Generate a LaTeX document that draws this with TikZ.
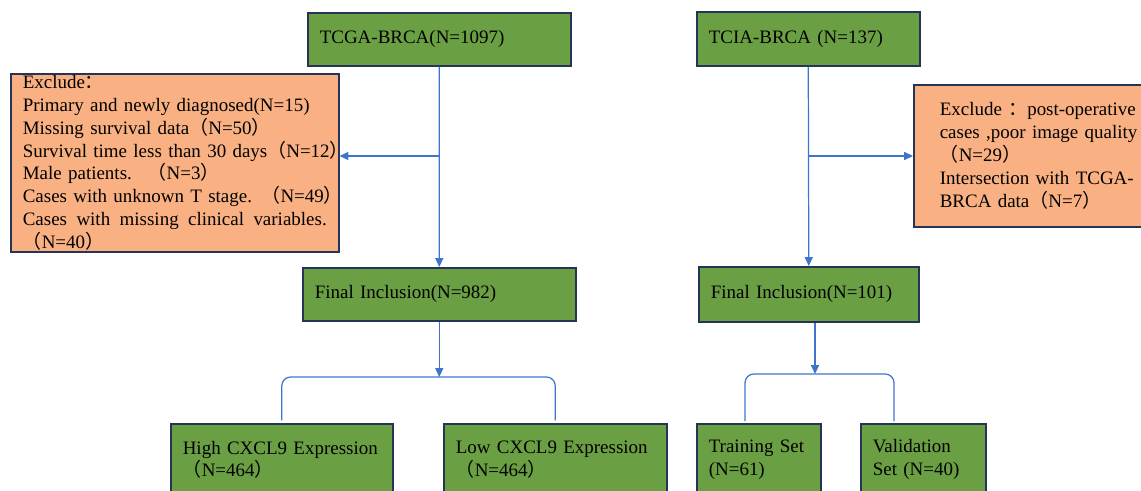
\documentclass[tikz,border=0pt]{standalone}
\usepackage{fontspec}
\setmainfont{Liberation Serif}
\newfontfamily\cjk{Noto Sans CJK SC}
\usepackage{tikz}
\usetikzlibrary{arrows.meta, positioning, calc}
\usepackage{xcolor}
\definecolor{boxgreen}{RGB}{106,160,67}
\definecolor{boxpeach}{RGB}{249,177,131}
\definecolor{boxline}{RGB}{38,52,88}
\definecolor{linkblue}{RGB}{62,116,204}
\newcommand{\flp}{{\cjk （}}
\newcommand{\frp}{{\cjk ）}}
\newcommand{\fcol}{{\cjk ：}}
\newcommand{\boxfont}{\fontsize{10.8}{13}\selectfont}
\newcommand{\spread}[1]{\makebox[\hsize][s]{#1}}
\tikzset{
  greenbox/.style={draw=boxline, fill=boxgreen, line width=0.9pt, anchor=north west,
    inner xsep=0.24cm, inner ysep=0pt, align=left, font=\boxfont},
  peachbox/.style={greenbox, fill=boxpeach},
  link/.style={draw=linkblue, line width=0.7pt},
  arr/.style={link, -{Triangle[length=5pt,width=4.5pt]}}
}

\begin{document}
\begin{tikzpicture}[x=0.02cm, y=-0.02cm]
  \useasboundingbox (0,0) rectangle (1141,490);
  \clip (0,0) rectangle (1141,490);
  % sources
  \node[greenbox, text width=4.78cm, minimum height=1.06cm] (tcga) at (307,12) {TCGA-BRCA(N=1097)};
  \node[greenbox, text width=3.98cm, minimum height=1.08cm] (tcia) at (696,11) {TCIA-BRCA (N=137)};
  % exclusions
  \node[peachbox, text width=6.08cm, minimum height=3.56cm] (exclL) at (10,73) {Exclude\fcol\\
    \mbox{Primary and newly diagnosed(N=15)}\\
    \mbox{Missing survival data\flp N=50\frp}\\
    \mbox{Survival time less than 30 days\flp N=12\frp}\\
    \mbox{Male patients. \ \flp N=3\frp}\\
    \mbox{Cases with unknown T stage. \flp N=49\frp}\\
    Cases \hfill with \hfill missing \hfill clinical \hfill variables.\\
    \flp N=40\frp};
  \node[peachbox, inner xsep=0.52cm, text width=3.86cm, minimum height=2.84cm] (exclR) at (913,84) {\spread{Exclude \fcol post-operative}\\
    \spread{cases ,poor image quality}\\
    \flp N=29\frp\\
    \spread{Intersection with TCGA-}\\
    BRCA data\flp N=7\frp};
  % final inclusion
  \node[greenbox, text width=4.98cm, minimum height=1.06cm] (finL) at (302,267) {Final Inclusion(N=982)};
  \node[greenbox, text width=3.92cm, minimum height=1.1cm] (finR) at (698,266) {Final Inclusion(N=101)};
  % groups
  \node[greenbox, text width=3.96cm, minimum height=1.44cm] (high) at (170,423) {High CXCL9 Expression\\ \flp N=464\frp};
  \node[greenbox, text width=3.98cm, minimum height=1.44cm] (low) at (443,423) {Low CXCL9 Expression\\ \flp N=464\frp};
  \node[greenbox, text width=2.0cm, minimum height=1.44cm] (train) at (696,423) {Training Set\\(N=61)};
  \node[greenbox, text width=2.02cm, minimum height=1.44cm] (valid) at (860,423) {Validation\\Set (N=40)};
  % connect
  \coordinate (lsplit) at (438.5,156);
  \coordinate (rsplit) at (807.5,156);
  \draw[arr] (tcga.south) -- (finL.north);
  \draw[arr] (tcia.south) -- (finR.north);
  \draw[arr] (lsplit) -- (lsplit -| exclL.east);
  \draw[arr] (rsplit) -- (rsplit -| exclR.west);
  % split brackets
  \coordinate (lfork) at (438,377);
  \coordinate (rfork) at (815,374);
  \coordinate (ttop) at (745,421);
  \coordinate (vtop) at (894,421);
  \draw[arr] (finL.south) -- (finL.south |- lfork);
  \draw[arr] (finR.south -| rfork) -- (rfork);
  \draw[link, rounded corners=5pt, shorten <=1.5pt, shorten >=1.5pt] (high.north) |- (finL.south |- lfork) -| (low.north);
  \draw[link, rounded corners=5pt] (ttop) |- (rfork) -| (vtop);
\end{tikzpicture}
\end{document}
